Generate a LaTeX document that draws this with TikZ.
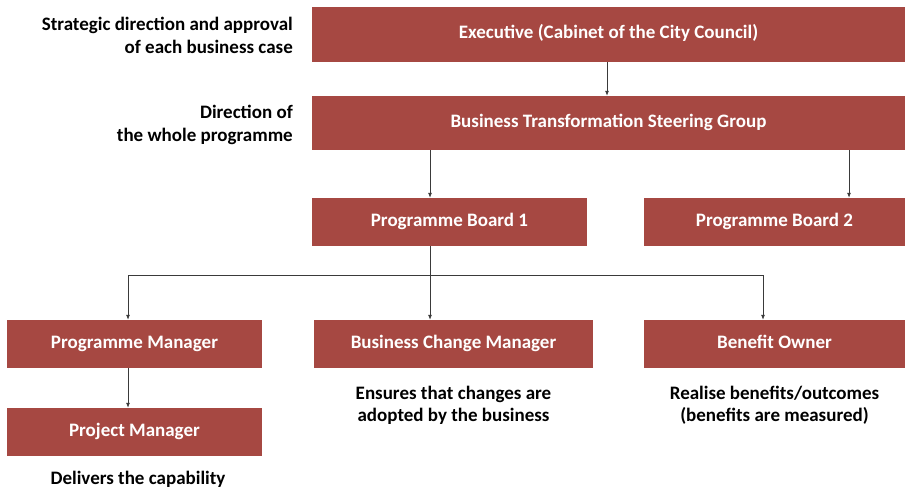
\documentclass[tikz,border=0pt]{standalone}
\usepackage{fontspec}
\setmainfont{Carlito}
\usetikzlibrary{arrows.meta}
\definecolor{boxred}{HTML}{A64842}
\definecolor{linegray}{HTML}{3A3A3A}
\begin{document}
\begin{tikzpicture}[x=1pt,y=-1pt,
  rbox/.style={fill=boxred,draw=none,text=white,font=\bfseries\fontsize{19}{22}\selectfont,inner sep=0pt,minimum height=48pt,text height=0.9em,text depth=0.1em},
  note/.style={font=\bfseries\fontsize{19}{23}\selectfont,text=black,inner sep=0pt},
  conn/.style={draw=linegray,line width=0.8pt},
  arr/.style={conn,-{Latex[length=5pt,width=4pt]}}]
\useasboundingbox (0,0) rectangle (907,490);
% boxes
\node[rbox,minimum width=593pt,minimum height=55pt] (exec) at (608.5,34.5) {Executive (Cabinet of the City Council)};
\node[rbox,minimum width=593pt,minimum height=54pt] (steer) at (608.5,123) {Business Transformation Steering Group};
\node[rbox,minimum width=275pt] (pb1) at (449.5,222) {Programme Board 1};
\node[rbox,minimum width=261pt] (pb2) at (774.5,222) {Programme Board 2};
\node[rbox,minimum width=255pt] (pm) at (134.5,344) {Programme Manager};
\node[rbox,minimum width=279pt] (bcm) at (453.5,344) {Business Change Manager};
\node[rbox,minimum width=261pt] (bo) at (774.5,344) {Benefit Owner};
\node[rbox,minimum width=255pt] (pjm) at (134.5,432) {Project Manager};
% side notes
\node[note,anchor=east,align=right] (n1) at (293,35) {Strategic direction and approval\\of each business case};
\node[note,anchor=east,align=right] (n2) at (293,125) {Direction of\\the whole programme};
\node[note,align=center,font=\bfseries\fontsize{19}{21.5}\selectfont] (n3) at (453.5,405.5) {Ensures that changes are\\adopted by the business};
\node[note,align=center,font=\bfseries\fontsize{19}{21.5}\selectfont] (n4) at (774.5,405.5) {Realise benefits/outcomes\\(benefits are measured)};
\node[note] (n5) at (138,479) {Delivers the capability};
% column coordinates
\coordinate (cA) at (128,275);
\coordinate (cB) at (430,275);
\coordinate (cC) at (763,275);
\coordinate (cD) at (849,0);
\coordinate (cE) at (607,0);
% connectors
\draw[arr] (exec.south -| cE) -- (steer.north -| cE);
\draw[arr] (steer.south -| cB) -- (pb1.north -| cB);
\draw[arr] (steer.south -| cD) -- (pb2.north -| cD);
\draw[conn] (pb1.south -| cB) -- (cB);
\draw[conn] (cA) -- (cC);
\draw[arr] (cA) -- (pm.north -| cA);
\draw[arr] (cB) -- (bcm.north -| cB);
\draw[arr] (cC) -- (bo.north -| cC);
\draw[arr] (pm.south -| cA) -- (pjm.north -| cA);
\end{tikzpicture}
\end{document}
